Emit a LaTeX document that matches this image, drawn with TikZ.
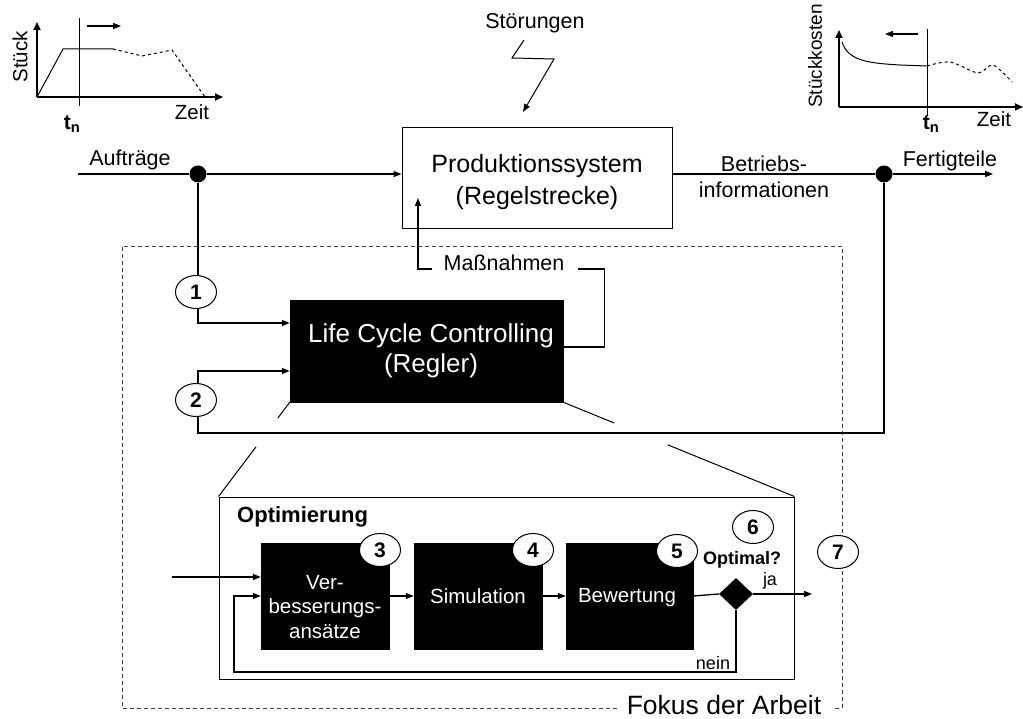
\documentclass[tikz,border=0pt]{standalone}
\usepackage{fontspec}
\setmainfont{Liberation Sans}
\usetikzlibrary{arrows.meta,shapes.geometric,calc}

\tikzset{
  wire/.style={line width=1.3pt},
  thinwire/.style={line width=1pt},
  tip/.style={-{Triangle[length=8pt,width=6pt]}},
  arr/.style={wire,tip},
  lbl/.style={font=\fontsize{21.5}{26}\selectfont, inner sep=0pt},
  small/.style={font=\fontsize{18}{20}\selectfont, inner sep=0pt},
  axis/.style={line width=1.8pt,-{Triangle[length=8pt,width=7pt]}},
  whitebox/.style={draw, line width=1pt, fill=white, inner sep=0pt},
  blackbox/.style={draw, fill=black, inner sep=0pt},
  boxtext/.style={text=white, align=center, inner sep=0pt},
  num/.style={ellipse, draw, fill=white, line width=1pt, minimum width=41pt,
    minimum height=33pt, inner sep=0pt, font=\fontsize{21}{21}\selectfont\bfseries},
  dot/.style={circle, fill=black, minimum size=17pt, inner sep=0pt},
  focus/.style={line width=0.9pt, black!75, dash pattern=on 4pt off 3pt},
}

\begin{document}
\begin{tikzpicture}[x=1pt, y=-1pt]
\useasboundingbox (0,0) rectangle (1023,719);

% ---- small chart: quantity over time ----
\draw[axis] (37,97) -- (37,22);
\draw[axis] (37,97) -- (223,97);
\draw[line width=1pt] (37,97) -- (63,49) -- (113,49);
\draw[line width=1pt, dashed] (113,49) -- (142,56) -- (172,50) -- (205,97);
\draw[line width=1pt] (79,18) -- (79,106);
\draw[line width=1.3pt, tip] (87,26) -- (121,26);
\node[rotate=90, font=\fontsize{20.5}{20}\selectfont] (ylabA) at (20,57) {Stück};
\node[font=\fontsize{20.5}{20}\selectfont] (xlabA) at (192,112) {Zeit};
\node[font=\fontsize{21}{20}\selectfont] (tnA) at (72,124) {\textbf{t\textsubscript{n}}};

% ---- small chart: unit costs over time ----
\draw[axis] (839,107) -- (839,30);
\draw[axis] (839,107) -- (1023,107);
\draw[line width=1pt] (842,42) .. controls (848,60) and (865,63) .. (900,65) -- (927,66);
\draw[line width=1pt, dashed] plot[smooth] coordinates {(927,66) (950,62) (978,73) (993,65) (1012,82)};
\draw[line width=1pt] (927,29) -- (927,116);
\draw[line width=1.3pt, tip] (918,34) -- (885,34);
\node[rotate=90, font=\fontsize{19}{19}\selectfont] (ylabB) at (815,56) {Stückkosten};
\node[font=\fontsize{20.5}{20}\selectfont] (xlabB) at (994,119) {Zeit};
\node[font=\fontsize{21}{20}\selectfont] (tnB) at (931,124) {\textbf{t\textsubscript{n}}};

% ---- disturbances ----
\node[lbl] (stoer) at (535,23) {Störungen};
\coordinate (zz) at (524,40);
\draw[thinwire, -{Triangle[length=8pt,width=6pt]}] (zz) -- (512,58) -- (554,59) -- (523,112);

% ---- controlled system ----
\node[whitebox, minimum width=270pt, minimum height=101pt] (ps) at (537,178.5) {};
\node[lbl, align=center, font=\fontsize{25}{32}\selectfont] (pstext) at (537,182) {Produktionssystem\\(Regelstrecke)};

% ---- focus frame ----
\draw[focus] (617,708) -- (122,708) -- (122,246) -- (842,246) -- (842,708) -- (833,708);
\node[font=\fontsize{26.5}{26}\selectfont, inner sep=0pt, anchor=base] (fokus) at (724,714) {Fokus der Arbeit};

% ---- main signal line ----
\coordinate (inL) at (78,174);
\coordinate (outR) at (993,174);
\node[dot] (d1) at (198,174) {};
\node[dot] (d2) at (884,174) {};
\draw[arr] (inL) -- (d1) -- (d1 -| ps.west);
\draw[arr] (d2 -| ps.east) -- (d2) -- (outR);
\node[lbl] (auftr) at (130,160) {Aufträge};
\node[lbl] (fert) at (950,161) {Fertigteile};
\node[lbl, align=center] (binfo) at (764,177) {Betriebs-\\informationen};

% ---- controller ----
\node[blackbox, minimum width=273pt, minimum height=102pt] (lcc) at (426.5,351) {};
\node[boxtext, font=\fontsize{26}{30}\selectfont] (lcctext) at (431,351) {Life Cycle Controlling\\(Regler)};

\node[num] (n1) at (196,292) {1};
\node[num] (n2) at (196,400) {2};
\draw[wire] (d1) -- (d1 |- n1.north);
\draw[arr] (d1 |- n1.south) |- ($(lcc.west)+(0,-28)$);
\coordinate (fbL) at (198,433);
\draw[wire] (d2) |- (fbL) -- (fbL |- n2.south);
\draw[arr] (fbL |- n2.north) |- ($(lcc.west)+(0,20)$);

% ---- measures ----
\node[lbl] (mass) at (504,263) {Maßnahmen};
\coordinate (mL) at (432,269);
\coordinate (mR) at (578,269);
\coordinate (psIn) at (418,198);
\draw[wire] ($(lcc.east)+(0,-4)$) -- ++(41,0) |- (mR);
\draw[arr] (mL) -- (psIn |- mL) -- (psIn);

% ---- optimisation detail ----
\node[whitebox, minimum width=575pt, minimum height=182pt] (opt) at (506.5,588) {};
\node[font=\fontsize{22}{22}\selectfont\bfseries, anchor=west, inner sep=0pt] (opttitle) at (237,517) {Optimierung};

% zoom lines from controller to detail box
\draw[thinwire] (lcc.south west) -- ($(lcc.south west)!0.168!(opt.north west)$);
\draw[thinwire] ($(lcc.south west)!0.474!(opt.north west)$) -- (opt.north west);
\draw[thinwire] (lcc.south east) -- ($(lcc.south east)!0.221!(opt.north east)$);
\draw[thinwire] ($(lcc.south east)!0.453!(opt.north east)$) -- (opt.north east);

\node[blackbox, minimum width=128pt, minimum height=106pt] (b3) at (325,596) {};
\node[blackbox, minimum width=128pt, minimum height=106pt] (b4) at (478,596) {};
\node[blackbox, minimum width=127pt, minimum height=106pt] (b5) at (629.5,596) {};
\node[boxtext, font=\fontsize{20.5}{24.5}\selectfont] (b3text) at (325,607) {Ver-\\besserungs-\\ansätze};
\node[boxtext, font=\fontsize{20.5}{24.5}\selectfont] (b4text) at (478,596) {Simulation};
\node[boxtext, font=\fontsize{20.5}{24.5}\selectfont] (b5text) at (627,598) {Bewertung};

\node[diamond, fill=black, minimum width=34pt, minimum height=32pt, inner sep=0pt] (dia) at (736,594) {};
\node[font=\fontsize{18}{18}\selectfont\bfseries, inner sep=0pt] (optq) at (742,560) {Optimal?};
\node[small] (ja) at (770,581) {ja};
\node[small] (nein) at (713,663) {nein};

\node[num] (n3) at (380,550) {3};
\node[num] (n4) at (533,550) {4};
\node[num] (n5) at (677,551) {5};
\node[num] (n6) at (753,527) {6};
\node[num] (n7) at (838,552) {7};

\coordinate (entry) at (172,577);
\coordinate (jaEnd) at (812,594);
\coordinate (loopL) at (234,672);
\draw[arr] (entry) -- (entry -| b3.west);
\draw[arr] (b3.east) -- (b4.west);
\draw[arr] (b4.east) -- (b5.west);
\draw[wire] (b5.east) -- (dia.west);
\draw[arr] (dia.east) -- (jaEnd);
\draw[arr] (dia.south) |- (loopL) |- (b3.west);

\end{tikzpicture}
\end{document}
